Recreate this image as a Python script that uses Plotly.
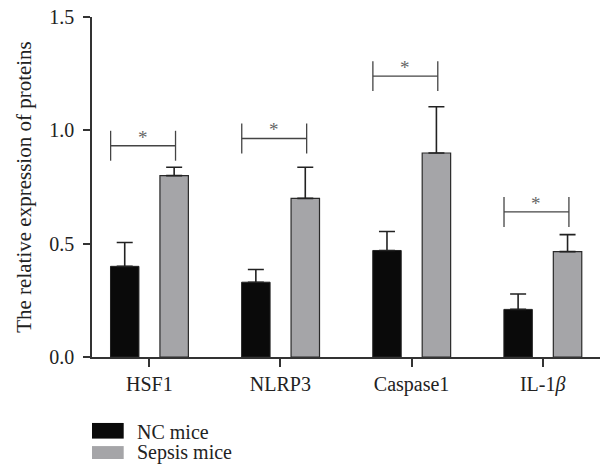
import plotly.graph_objects as go

categories = ["HSF1", "NLRP3", "Caspase1", "IL-1<i>β</i>"]
series_names = ["NC mice", "Sepsis mice"]
nc_values = [0.40, 0.33, 0.47, 0.21]
nc_errors = [0.105, 0.056, 0.084, 0.068]
sepsis_values = [0.80, 0.70, 0.90, 0.465]
sepsis_errors = [0.037, 0.137, 0.204, 0.075]
bracket_levels = [0.932, 0.964, 1.239, 0.640]
star_labels = ["*", "*", "*", "*"]
y_ticks = [0.0, 0.5, 1.0, 1.5]
y_tick_labels = ["0.0", "0.5", "1.0", "1.5"]

FONT = "Liberation Serif"
AX = "#333333"
TXT = "#222222"
BAR_W = 0.217

fig = go.Figure()
fig.add_trace(go.Bar(
    x=categories, y=nc_values, name=series_names[0],
    width=BAR_W, offset=-0.296,
    marker=dict(color="#0a0a0a", line=dict(color="#222222", width=1)),
    error_y=dict(type="data", array=nc_errors, arrayminus=[0]*len(nc_errors),
                 symmetric=False, color="#222222", thickness=1.6, width=8),
    showlegend=False,
))
fig.add_trace(go.Bar(
    x=categories, y=sepsis_values, name=series_names[1],
    width=BAR_W, offset=0.081,
    marker=dict(color="#a5a5a8", line=dict(color="#2a2a2a", width=1.2)),
    error_y=dict(type="data", array=sepsis_errors, arrayminus=[0]*len(sepsis_errors),
                 symmetric=False, color="#222222", thickness=1.6, width=8),
    showlegend=False,
))

# significance brackets (x in category units relative to each category)
shapes = []
annotations = []
half_tick = 0.066
for i, lvl in enumerate(bracket_levels):
    x0 = i - 0.295
    x1 = i + 0.20
    for xx in (x0, x1):
        shapes.append(dict(type="line", xref="x", yref="y", x0=xx, x1=xx,
                           y0=lvl - half_tick, y1=lvl + half_tick,
                           line=dict(color="#444444", width=1.3)))
    shapes.append(dict(type="line", xref="x", yref="y", x0=x0, x1=x1,
                       y0=lvl, y1=lvl, line=dict(color="#444444", width=1.3)))
    annotations.append(dict(x=(x0 + x1) / 2, y=lvl, xref="x", yref="y",
                            text=star_labels[i], showarrow=False,
                            yanchor="bottom", yshift=-4,
                            font=dict(family=FONT, size=19, color="#666666")))

# legend drawn manually
legend_colors = ["#0a0a0a", "#a5a5a8"]
legend_rows = [(-0.240, -0.194, -0.2206), (-0.300, -0.262, -0.281)]
for name, col, (ly0, ly1, ty) in zip(series_names, legend_colors, legend_rows):
    shapes.append(dict(type="rect", xref="paper", yref="paper",
                       x0=0.0, x1=0.0624, y0=ly0, y1=ly1,
                       fillcolor=col, line=dict(width=0)))
    annotations.append(dict(x=0.0846, y=ty, xref="paper", yref="paper",
                            text=name, showarrow=False, xanchor="left",
                            yanchor="middle",
                            font=dict(family=FONT, size=20, color=TXT)))

fig.update_layout(
    width=602, height=472,
    margin=dict(l=92, r=2, t=17, b=115),
    plot_bgcolor="white", paper_bgcolor="white",
    font=dict(family=FONT, size=20, color=TXT),
    shapes=shapes, annotations=annotations,
)
fig.update_xaxes(
    type="category", range=[-0.437, 3.437],
    showline=True, linecolor=AX, linewidth=1.5,
    ticks="outside", ticklen=8, tickwidth=1.5, tickcolor=AX,
    showgrid=False, zeroline=False,
    tickfont=dict(family=FONT, size=20, color=TXT),
)
fig.update_yaxes(
    range=[0, 1.5], tickvals=y_ticks, ticktext=y_tick_labels,
    showline=True, linecolor=AX, linewidth=1.5,
    ticks="outside", ticklen=7, tickwidth=1.5, tickcolor=AX,
    ticklabelstandoff=5,
    showgrid=False, zeroline=False,
    tickfont=dict(family=FONT, size=20, color=TXT),
    title=dict(text="The relative expression of proteins",
               font=dict(family=FONT, size=21, color=TXT), standoff=12),
)

fig.write_html("out.html",
               config={"displayModeBar": False},
               post_script="document.body.style.margin='0';document.body.style.overflow='hidden';")
